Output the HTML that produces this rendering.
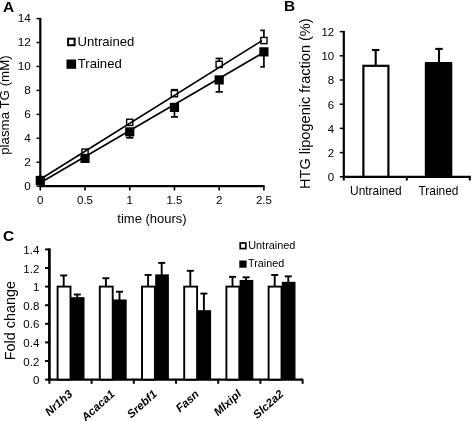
<!DOCTYPE html>
<html lang="en"><head><meta charset="utf-8"><title>Figure</title>
<style>
html,body{margin:0;padding:0;background:#fff;}
body{width:471px;height:421px;overflow:hidden;}
svg{display:block;}
svg text{font-family:'Liberation Sans', Arial, Helvetica, sans-serif;fill:#000;}
</style></head>
<body>
<svg width="471" height="421" viewBox="0 0 471 421">
<rect x="0" y="0" width="471" height="421" fill="#fff"/>
<text x="2.90" y="11.50" font-size="15.5" text-anchor="start" font-weight="bold" font-style="normal" >A</text>
<line x1="40.30" y1="17.90" x2="40.30" y2="187.20" stroke="#000" stroke-width="2.2" />
<line x1="39.30" y1="186.20" x2="264.60" y2="186.20" stroke="#000" stroke-width="2.2" />
<line x1="36.50" y1="186.20" x2="40.30" y2="186.20" stroke="#000" stroke-width="1.5" />
<text x="30.80" y="189.90" font-size="11.8" text-anchor="end" font-weight="normal" font-style="normal" >0</text>
<line x1="36.50" y1="162.26" x2="40.30" y2="162.26" stroke="#000" stroke-width="1.5" />
<text x="30.80" y="165.96" font-size="11.8" text-anchor="end" font-weight="normal" font-style="normal" >2</text>
<line x1="36.50" y1="138.31" x2="40.30" y2="138.31" stroke="#000" stroke-width="1.5" />
<text x="30.80" y="142.01" font-size="11.8" text-anchor="end" font-weight="normal" font-style="normal" >4</text>
<line x1="36.50" y1="114.37" x2="40.30" y2="114.37" stroke="#000" stroke-width="1.5" />
<text x="30.80" y="118.07" font-size="11.8" text-anchor="end" font-weight="normal" font-style="normal" >6</text>
<line x1="36.50" y1="90.43" x2="40.30" y2="90.43" stroke="#000" stroke-width="1.5" />
<text x="30.80" y="94.13" font-size="11.8" text-anchor="end" font-weight="normal" font-style="normal" >8</text>
<line x1="36.50" y1="66.49" x2="40.30" y2="66.49" stroke="#000" stroke-width="1.5" />
<text x="30.80" y="70.19" font-size="11.8" text-anchor="end" font-weight="normal" font-style="normal" >10</text>
<line x1="36.50" y1="42.54" x2="40.30" y2="42.54" stroke="#000" stroke-width="1.5" />
<text x="30.80" y="46.24" font-size="11.8" text-anchor="end" font-weight="normal" font-style="normal" >12</text>
<line x1="36.50" y1="18.60" x2="40.30" y2="18.60" stroke="#000" stroke-width="1.5" />
<text x="30.80" y="22.30" font-size="11.8" text-anchor="end" font-weight="normal" font-style="normal" >14</text>
<line x1="40.30" y1="186.20" x2="40.30" y2="190.50" stroke="#000" stroke-width="1.6" />
<text x="40.30" y="204.10" font-size="11.5" text-anchor="middle" font-weight="normal" font-style="normal" >0</text>
<line x1="85.02" y1="186.20" x2="85.02" y2="190.50" stroke="#000" stroke-width="1.6" />
<text x="85.02" y="204.10" font-size="11.5" text-anchor="middle" font-weight="normal" font-style="normal" >0.5</text>
<line x1="129.74" y1="186.20" x2="129.74" y2="190.50" stroke="#000" stroke-width="1.6" />
<text x="129.74" y="204.10" font-size="11.5" text-anchor="middle" font-weight="normal" font-style="normal" >1</text>
<line x1="174.46" y1="186.20" x2="174.46" y2="190.50" stroke="#000" stroke-width="1.6" />
<text x="174.46" y="204.10" font-size="11.5" text-anchor="middle" font-weight="normal" font-style="normal" >1.5</text>
<line x1="219.18" y1="186.20" x2="219.18" y2="190.50" stroke="#000" stroke-width="1.6" />
<text x="219.18" y="204.10" font-size="11.5" text-anchor="middle" font-weight="normal" font-style="normal" >2</text>
<line x1="263.90" y1="186.20" x2="263.90" y2="190.50" stroke="#000" stroke-width="1.6" />
<text x="263.90" y="204.10" font-size="11.5" text-anchor="middle" font-weight="normal" font-style="normal" >2.5</text>
<text x="152.00" y="222.50" font-size="13" text-anchor="middle" font-weight="normal" font-style="normal" >time (hours)</text>
<text x="9.10" y="105.10" font-size="13.3" text-anchor="middle" font-weight="normal" font-style="normal" transform="rotate(-90 9.10 105.10)" >plasma TG (mM)</text>
<line x1="174.46" y1="93.66" x2="174.46" y2="89.72" stroke="#000" stroke-width="1.7" />
<line x1="170.86" y1="89.72" x2="178.06" y2="89.72" stroke="#000" stroke-width="1.7" />
<line x1="219.18" y1="64.41" x2="219.18" y2="58.44" stroke="#000" stroke-width="1.7" />
<line x1="215.58" y1="58.44" x2="222.78" y2="58.44" stroke="#000" stroke-width="1.7" />
<line x1="263.90" y1="40.53" x2="263.90" y2="30.38" stroke="#000" stroke-width="1.7" />
<line x1="260.30" y1="30.38" x2="264.80" y2="30.38" stroke="#000" stroke-width="1.7" />
<rect x="37.20" y="176.53" width="6.20" height="6.20" fill="#fff" stroke="#000" stroke-width="1.4"/>
<rect x="81.92" y="149.07" width="6.20" height="6.20" fill="#fff" stroke="#000" stroke-width="1.4"/>
<rect x="126.64" y="119.22" width="6.20" height="6.20" fill="#fff" stroke="#000" stroke-width="1.4"/>
<rect x="171.36" y="90.56" width="6.20" height="6.20" fill="#fff" stroke="#000" stroke-width="1.4"/>
<rect x="216.08" y="61.31" width="6.20" height="6.20" fill="#fff" stroke="#000" stroke-width="1.4"/>
<rect x="260.80" y="37.43" width="6.20" height="6.20" fill="#fff" stroke="#000" stroke-width="1.4"/>
<line x1="40.30" y1="179.30" x2="262.00" y2="40.65" stroke="#000" stroke-width="1.7" />
<line x1="129.74" y1="131.87" x2="129.74" y2="137.84" stroke="#000" stroke-width="1.7" />
<line x1="126.14" y1="137.84" x2="133.34" y2="137.84" stroke="#000" stroke-width="1.7" />
<line x1="174.46" y1="107.39" x2="174.46" y2="116.94" stroke="#000" stroke-width="1.7" />
<line x1="170.86" y1="116.94" x2="178.06" y2="116.94" stroke="#000" stroke-width="1.7" />
<line x1="219.18" y1="79.93" x2="219.18" y2="91.87" stroke="#000" stroke-width="1.7" />
<line x1="215.58" y1="91.87" x2="222.78" y2="91.87" stroke="#000" stroke-width="1.7" />
<line x1="263.90" y1="51.87" x2="263.90" y2="66.80" stroke="#000" stroke-width="1.7" />
<line x1="260.30" y1="66.80" x2="264.80" y2="66.80" stroke="#000" stroke-width="1.7" />
<line x1="40.30" y1="182.80" x2="264.00" y2="52.30" stroke="#000" stroke-width="1.7" />
<rect x="35.70" y="175.99" width="9.20" height="9.20" fill="#000"/>
<rect x="80.42" y="153.78" width="9.20" height="9.20" fill="#000"/>
<rect x="125.14" y="127.27" width="9.20" height="9.20" fill="#000"/>
<rect x="169.86" y="102.79" width="9.20" height="9.20" fill="#000"/>
<rect x="214.58" y="75.33" width="9.20" height="9.20" fill="#000"/>
<rect x="259.30" y="47.27" width="9.20" height="9.20" fill="#000"/>
<rect x="68.10" y="38.70" width="6.50" height="6.50" fill="#fff" stroke="#000" stroke-width="2"/>
<text x="77.50" y="45.70" font-size="13.1" text-anchor="start" font-weight="normal" font-style="normal" >Untrained</text>
<rect x="66.50" y="59.50" width="9.60" height="9.30" fill="#000"/>
<text x="77.80" y="68.00" font-size="13.1" text-anchor="start" font-weight="normal" font-style="normal" >Trained</text>
<text x="284.00" y="11.10" font-size="15.5" text-anchor="start" font-weight="bold" font-style="normal" >B</text>
<line x1="343.80" y1="30.90" x2="343.80" y2="177.80" stroke="#000" stroke-width="2.2" />
<line x1="342.80" y1="176.80" x2="471.00" y2="176.80" stroke="#000" stroke-width="2.2" />
<line x1="339.80" y1="176.80" x2="343.80" y2="176.80" stroke="#000" stroke-width="1.5" />
<text x="334.10" y="181.10" font-size="11.4" text-anchor="end" font-weight="normal" font-style="normal" >0</text>
<line x1="339.80" y1="152.60" x2="343.80" y2="152.60" stroke="#000" stroke-width="1.5" />
<text x="334.10" y="156.90" font-size="11.4" text-anchor="end" font-weight="normal" font-style="normal" >2</text>
<line x1="339.80" y1="128.40" x2="343.80" y2="128.40" stroke="#000" stroke-width="1.5" />
<text x="334.10" y="132.70" font-size="11.4" text-anchor="end" font-weight="normal" font-style="normal" >4</text>
<line x1="339.80" y1="104.20" x2="343.80" y2="104.20" stroke="#000" stroke-width="1.5" />
<text x="334.10" y="108.50" font-size="11.4" text-anchor="end" font-weight="normal" font-style="normal" >6</text>
<line x1="339.80" y1="80.00" x2="343.80" y2="80.00" stroke="#000" stroke-width="1.5" />
<text x="334.10" y="84.30" font-size="11.4" text-anchor="end" font-weight="normal" font-style="normal" >8</text>
<line x1="339.80" y1="55.80" x2="343.80" y2="55.80" stroke="#000" stroke-width="1.5" />
<text x="334.10" y="60.10" font-size="11.4" text-anchor="end" font-weight="normal" font-style="normal" >10</text>
<line x1="339.80" y1="31.60" x2="343.80" y2="31.60" stroke="#000" stroke-width="1.5" />
<text x="334.10" y="35.90" font-size="11.4" text-anchor="end" font-weight="normal" font-style="normal" >12</text>
<line x1="343.80" y1="176.80" x2="343.80" y2="180.50" stroke="#000" stroke-width="2.0" />
<line x1="406.80" y1="176.80" x2="406.80" y2="180.50" stroke="#000" stroke-width="2.0" />
<line x1="469.80" y1="176.80" x2="469.80" y2="180.50" stroke="#000" stroke-width="2.0" />
<text x="375.90" y="194.50" font-size="11.9" text-anchor="middle" font-weight="normal" font-style="normal" >Untrained</text>
<text x="438.50" y="194.50" font-size="11.9" text-anchor="middle" font-weight="normal" font-style="normal" >Trained</text>
<text x="310.40" y="103.65" font-size="14.55" text-anchor="middle" font-weight="normal" font-style="normal" transform="rotate(-90 310.40 103.65)" >HTG lipogenic fraction (%)</text>
<line x1="375.70" y1="65.00" x2="375.70" y2="50.00" stroke="#000" stroke-width="2.1" />
<line x1="372.00" y1="50.00" x2="379.40" y2="50.00" stroke="#000" stroke-width="2.1" />
<line x1="439.00" y1="62.00" x2="439.00" y2="48.90" stroke="#000" stroke-width="2.1" />
<line x1="435.30" y1="48.90" x2="442.70" y2="48.90" stroke="#000" stroke-width="2.1" />
<rect x="363.40" y="65.80" width="25.00" height="111.00" fill="#fff" stroke="#000" stroke-width="2.2"/>
<rect x="424.8" y="62" width="27.5" height="114.80" rx="0.9" fill="#000"/>
<text x="3.10" y="241.00" font-size="15.5" text-anchor="start" font-weight="bold" font-style="normal" >C</text>
<line x1="49.40" y1="248.40" x2="49.40" y2="380.90" stroke="#000" stroke-width="2.7" />
<line x1="48.10" y1="379.70" x2="303.20" y2="379.70" stroke="#000" stroke-width="2.3" />
<line x1="45.10" y1="379.60" x2="49.40" y2="379.60" stroke="#000" stroke-width="2" />
<text x="39.30" y="384.20" font-size="11.5" text-anchor="end" font-weight="normal" font-style="normal" >0</text>
<line x1="45.10" y1="361.00" x2="49.40" y2="361.00" stroke="#000" stroke-width="2" />
<text x="39.30" y="365.60" font-size="11.5" text-anchor="end" font-weight="normal" font-style="normal" >0.2</text>
<line x1="45.10" y1="342.40" x2="49.40" y2="342.40" stroke="#000" stroke-width="2" />
<text x="39.30" y="347.00" font-size="11.5" text-anchor="end" font-weight="normal" font-style="normal" >0.4</text>
<line x1="45.10" y1="323.80" x2="49.40" y2="323.80" stroke="#000" stroke-width="2" />
<text x="39.30" y="328.40" font-size="11.5" text-anchor="end" font-weight="normal" font-style="normal" >0.6</text>
<line x1="45.10" y1="305.20" x2="49.40" y2="305.20" stroke="#000" stroke-width="2" />
<text x="39.30" y="309.80" font-size="11.5" text-anchor="end" font-weight="normal" font-style="normal" >0.8</text>
<line x1="45.10" y1="286.60" x2="49.40" y2="286.60" stroke="#000" stroke-width="2" />
<text x="39.30" y="291.20" font-size="11.5" text-anchor="end" font-weight="normal" font-style="normal" >1</text>
<line x1="45.10" y1="268.00" x2="49.40" y2="268.00" stroke="#000" stroke-width="2" />
<text x="39.30" y="272.60" font-size="11.5" text-anchor="end" font-weight="normal" font-style="normal" >1.2</text>
<line x1="45.10" y1="249.40" x2="49.40" y2="249.40" stroke="#000" stroke-width="2" />
<text x="39.30" y="254.00" font-size="11.5" text-anchor="end" font-weight="normal" font-style="normal" >1.4</text>
<line x1="49.40" y1="379.60" x2="49.40" y2="383.80" stroke="#000" stroke-width="2" />
<line x1="91.60" y1="379.60" x2="91.60" y2="383.80" stroke="#000" stroke-width="2" />
<line x1="133.80" y1="379.60" x2="133.80" y2="383.80" stroke="#000" stroke-width="2" />
<line x1="176.00" y1="379.60" x2="176.00" y2="383.80" stroke="#000" stroke-width="2" />
<line x1="218.20" y1="379.60" x2="218.20" y2="383.80" stroke="#000" stroke-width="2" />
<line x1="260.40" y1="379.60" x2="260.40" y2="383.80" stroke="#000" stroke-width="2" />
<line x1="302.60" y1="379.60" x2="302.60" y2="383.80" stroke="#000" stroke-width="2" />
<text x="15.20" y="320.70" font-size="14.4" text-anchor="middle" font-weight="normal" font-style="normal" transform="rotate(-90 15.20 320.70)" >Fold change</text>
<line x1="63.70" y1="286.60" x2="63.70" y2="275.44" stroke="#000" stroke-width="1.9" />
<line x1="60.20" y1="275.44" x2="67.20" y2="275.44" stroke="#000" stroke-width="1.9" />
<line x1="77.30" y1="297.76" x2="77.30" y2="294.50" stroke="#000" stroke-width="1.9" />
<line x1="73.80" y1="294.50" x2="80.80" y2="294.50" stroke="#000" stroke-width="1.9" />
<rect x="57.60" y="286.60" width="12.90" height="93.00" fill="#fff" stroke="#000" stroke-width="1.9"/>
<rect x="70.80" y="297.16" width="13.70" height="82.44" fill="#000"/>
<text x="73.20" y="395.00" font-size="11.4" text-anchor="end" font-weight="bold" font-style="italic" transform="rotate(-42 73.20 395.00)" >Nr1h3</text>
<line x1="105.90" y1="286.60" x2="105.90" y2="278.23" stroke="#000" stroke-width="1.9" />
<line x1="102.40" y1="278.23" x2="109.40" y2="278.23" stroke="#000" stroke-width="1.9" />
<line x1="119.50" y1="300.09" x2="119.50" y2="291.72" stroke="#000" stroke-width="1.9" />
<line x1="116.00" y1="291.72" x2="123.00" y2="291.72" stroke="#000" stroke-width="1.9" />
<rect x="99.80" y="286.60" width="12.90" height="93.00" fill="#fff" stroke="#000" stroke-width="1.9"/>
<rect x="113.00" y="299.49" width="13.70" height="80.11" fill="#000"/>
<text x="115.40" y="395.00" font-size="11.4" text-anchor="end" font-weight="bold" font-style="italic" transform="rotate(-42 115.40 395.00)" >Acaca1</text>
<line x1="148.10" y1="286.60" x2="148.10" y2="274.98" stroke="#000" stroke-width="1.9" />
<line x1="144.60" y1="274.98" x2="151.60" y2="274.98" stroke="#000" stroke-width="1.9" />
<line x1="161.70" y1="274.98" x2="161.70" y2="262.89" stroke="#000" stroke-width="1.9" />
<line x1="158.20" y1="262.89" x2="165.20" y2="262.89" stroke="#000" stroke-width="1.9" />
<rect x="142.00" y="286.60" width="12.90" height="93.00" fill="#fff" stroke="#000" stroke-width="1.9"/>
<rect x="155.20" y="274.38" width="13.70" height="105.22" fill="#000"/>
<text x="157.60" y="395.00" font-size="11.4" text-anchor="end" font-weight="bold" font-style="italic" transform="rotate(-42 157.60 395.00)" >Srebf1</text>
<line x1="190.30" y1="286.60" x2="190.30" y2="270.79" stroke="#000" stroke-width="1.9" />
<line x1="186.80" y1="270.79" x2="193.80" y2="270.79" stroke="#000" stroke-width="1.9" />
<line x1="203.90" y1="310.78" x2="203.90" y2="293.58" stroke="#000" stroke-width="1.9" />
<line x1="200.40" y1="293.58" x2="207.40" y2="293.58" stroke="#000" stroke-width="1.9" />
<rect x="184.20" y="286.60" width="12.90" height="93.00" fill="#fff" stroke="#000" stroke-width="1.9"/>
<rect x="197.40" y="310.18" width="13.70" height="69.42" fill="#000"/>
<text x="199.80" y="395.00" font-size="11.4" text-anchor="end" font-weight="bold" font-style="italic" transform="rotate(-42 199.80 395.00)" >Fasn</text>
<line x1="232.50" y1="286.60" x2="232.50" y2="276.84" stroke="#000" stroke-width="1.9" />
<line x1="229.00" y1="276.84" x2="236.00" y2="276.84" stroke="#000" stroke-width="1.9" />
<line x1="246.10" y1="280.56" x2="246.10" y2="277.30" stroke="#000" stroke-width="1.9" />
<line x1="242.60" y1="277.30" x2="249.60" y2="277.30" stroke="#000" stroke-width="1.9" />
<rect x="226.40" y="286.60" width="12.90" height="93.00" fill="#fff" stroke="#000" stroke-width="1.9"/>
<rect x="239.60" y="279.95" width="13.70" height="99.64" fill="#000"/>
<text x="242.00" y="395.00" font-size="11.4" text-anchor="end" font-weight="bold" font-style="italic" transform="rotate(-42 242.00 395.00)" >Mlxipl</text>
<line x1="274.70" y1="286.60" x2="274.70" y2="274.98" stroke="#000" stroke-width="1.9" />
<line x1="271.20" y1="274.98" x2="278.20" y2="274.98" stroke="#000" stroke-width="1.9" />
<line x1="288.30" y1="282.42" x2="288.30" y2="276.37" stroke="#000" stroke-width="1.9" />
<line x1="284.80" y1="276.37" x2="291.80" y2="276.37" stroke="#000" stroke-width="1.9" />
<rect x="268.60" y="286.60" width="12.90" height="93.00" fill="#fff" stroke="#000" stroke-width="1.9"/>
<rect x="281.80" y="281.81" width="13.70" height="97.78" fill="#000"/>
<text x="284.20" y="395.00" font-size="11.4" text-anchor="end" font-weight="bold" font-style="italic" transform="rotate(-42 284.20 395.00)" >Slc2a2</text>
<rect x="240.20" y="243.00" width="5.60" height="5.60" fill="#fff" stroke="#000" stroke-width="1.7"/>
<text x="248.20" y="249.00" font-size="10.9" text-anchor="start" font-weight="normal" font-style="normal" >Untrained</text>
<rect x="239.30" y="260.50" width="7.30" height="7.20" fill="#000"/>
<text x="248.00" y="267.30" font-size="10.8" text-anchor="start" font-weight="normal" font-style="normal" >Trained</text>
</svg>
</body></html>
